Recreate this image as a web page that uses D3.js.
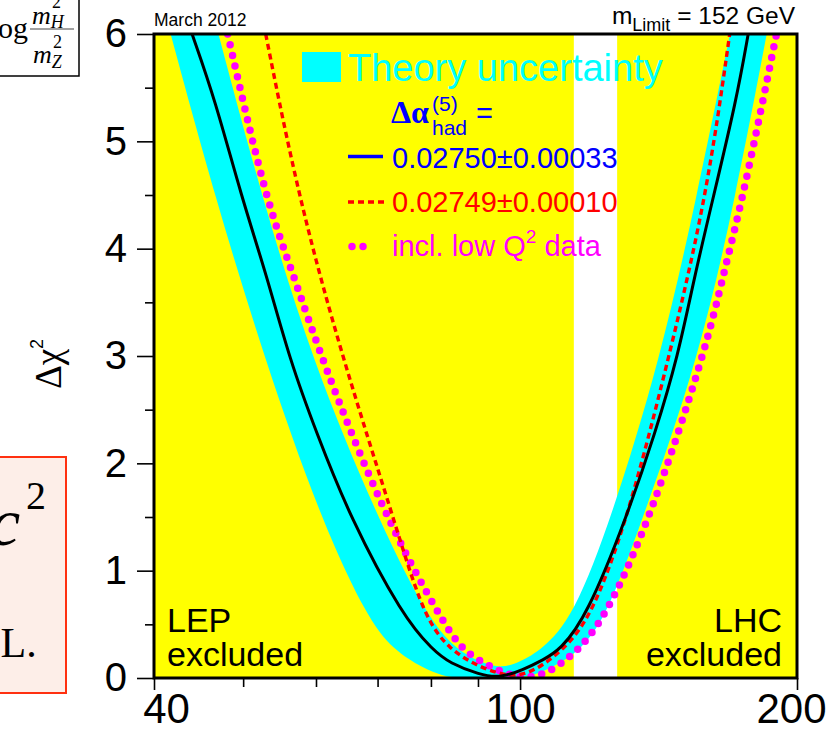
<!DOCTYPE html>
<html>
<head>
<meta charset="utf-8">
<script src="https://cdn.jsdelivr.net/npm/d3@7"></script>
<style>
  body { margin: 0; background: #fff; }
  svg text { font-family: "Liberation Sans", Arial, Helvetica, sans-serif; }
  .serif { font-family: "Liberation Serif", "Times New Roman", serif; }
</style>
</head>
<body>
<div id="chart"></div>
<script>
// Axis ticks
const xTicks = [40, 100, 200];
const xMinorTicks = [50, 60, 70, 80, 90];
const yTicks = [0, 1, 2, 3, 4, 5, 6];
const yMinorTicks = [0.5, 1.5, 2.5, 3.5, 4.5, 5.5];

// Excluded mass ranges (GeV)
const lepExcluded = [40, 114.4];
const lhcExcluded = [127.5, 200];

// Theory uncertainty band: outer (lower) and inner (upper) edges
const bandOuterMass = [41.7, 46.6, 52.8, 60.6, 68.1, 72.8, 78.5, 82.5, 85, 98.5, 103, 106.9, 111, 116.2, 124.2, 136.1, 156.2, 171.5, 185.4];
const bandOuterChi2 = [6.0, 4.48, 2.96, 1.50, 0.57, 0.26, 0.09, 0.02, 0, 0, 0.02, 0.075, 0.15, 0.26, 0.57, 1.50, 2.96, 4.48, 6.0];
const bandInnerMass = [47.0, 52.4, 59.4, 69.9, 79.2, 85.3, 91, 95.5, 100, 105.5, 114.3, 125.8, 141.9, 155.6, 169.1];
const bandInnerChi2 = [6.0, 4.48, 2.96, 1.50, 0.57, 0.26, 0.14, 0.09, 0.15, 0.26, 0.57, 1.50, 2.96, 4.48, 6.0];

// Fit with 0.02750 +- 0.00033 (solid)
const fitMass = [44.0, 46.6, 49.8, 53.0, 56.2, 60.1, 65.3, 74.6, 80.4, 83.9, 90.4, 95, 100.7, 106, 110.5, 118.1, 130.6, 140.2, 148.5, 154.9, 162.2, 171.9, 177];
const fitChi2 = [6.0, 5.39, 4.48, 3.76, 2.96, 2.28, 1.50, 0.57, 0.26, 0.137, 0.03, 0, 0.075, 0.17, 0.26, 0.57, 1.50, 2.28, 3.0, 3.76, 4.48, 5.39, 6.0];

// Fit with 0.02749 +- 0.00010 (dashed)
const altMass = [52.9, 57.4, 64.2, 72.8, 78.5, 83.9, 90.3, 98, 104, 111.4, 119.6, 131.1, 145.3, 159.5, 169];
const altChi2 = [6.0, 4.48, 2.96, 1.50, 0.57, 0.26, 0.10, 0, 0.07, 0.26, 0.57, 1.50, 3.0, 4.48, 6.0];

// Fit incl. low Q^2 data (dotted)
const lowQMass = [48.1, 52.8, 56.7, 60.9, 71.3, 81.8, 86.4, 92, 96.6, 100.5, 104, 107.8, 112.7, 115.6, 124, 138.7, 159.2, 166.3, 174.8, 190];
const lowQChi2 = [6.0, 4.48, 3.76, 2.96, 1.50, 0.57, 0.26, 0.12, 0.04, 0, 0.02, 0.06, 0.186, 0.26, 0.57, 1.50, 3.06, 3.76, 4.48, 6.0];

const toPoints = (ms, cs) => ms.map((m, i) => ({ m: m, c: cs[i] }));

let margin = { top: 34, left: 154, right: 30, bottom: 52 };
let width = 643, height = 644;

let root = d3.select("#chart")
  .append("svg")
  .attr("width", 827)
  .attr("height", 730);

// Bits of the surrounding page that are cut off at the left edge
root.append("rect")
  .attr("x", -3).attr("y", -3)
  .attr("width", 82).attr("height", 79)
  .attr("fill", "none").attr("stroke", "black").attr("stroke-width", 1.5);
root.append("text").attr("class", "serif")
  .attr("x", -2).attr("y", 38).style("font-size", "30px").text("og");
root.append("line")
  .attr("x1", 30).attr("x2", 74).attr("y1", 29).attr("y2", 29)
  .attr("stroke", "#444").attr("stroke-width", 1.2);
let num = root.append("text").attr("class", "serif")
  .attr("x", 32).attr("y", 24).style("font-size", "26px").style("font-style", "italic");
num.append("tspan").text("m");
num.append("tspan").attr("dy", 4).style("font-size", "18px").text("H");
num.append("tspan").attr("x", 52).attr("dy", -20).style("font-size", "18px").style("font-style", "normal").text("2");
let den = root.append("text").attr("class", "serif")
  .attr("x", 33).attr("y", 63).style("font-size", "26px").style("font-style", "italic");
den.append("tspan").text("m");
den.append("tspan").attr("dy", 5).style("font-size", "18px").text("Z");
den.append("tspan").attr("x", 53).attr("dy", -20).style("font-size", "18px").style("font-style", "normal").text("2");

root.append("rect")
  .attr("x", -3).attr("y", 457)
  .attr("width", 69).attr("height", 236)
  .attr("fill", "#fdeee8").attr("stroke", "#ff3010").attr("stroke-width", 2);
root.append("text").attr("class", "serif")
  .attr("x", -10).attr("y", 545).style("font-size", "68px").style("font-style", "italic").text("c");
root.append("text").attr("class", "serif")
  .attr("x", 26).attr("y", 509).style("font-size", "40px").text("2");
root.append("text").attr("class", "serif")
  .attr("x", -10).attr("y", 657).style("font-size", "42px").text(".L.");

let svg = root.append("g")
  .attr("transform", `translate(${margin.left},${margin.top})`);

// Scales
let x = d3.scaleLog().domain([40, 200]).range([0, width]);
let y = d3.scaleLinear().domain([0, 6]).range([height, 0]);

svg.append("defs").append("clipPath").attr("id", "frame-clip")
  .append("rect").attr("width", width).attr("height", height);

// Excluded regions
svg.selectAll(".excl")
  .data([lepExcluded, lhcExcluded])
  .enter()
  .append("rect")
  .attr("class", "excl")
  .attr("x", d => x(d[0]))
  .attr("y", 0)
  .attr("width", d => x(d[1]) - x(d[0]))
  .attr("height", height)
  .attr("fill", "#ffff00");

let plot = svg.append("g").attr("clip-path", "url(#frame-clip)");

let edge = d3.line()
  .x(d => x(d.m))
  .y(d => y(d.c))
  .curve(d3.curveBasis);

// Theory band
let outer = toPoints(bandOuterMass, bandOuterChi2);
let inner = toPoints(bandInnerMass, bandInnerChi2).reverse();
plot.append("path")
  .attr("d", edge(outer) + "L" + edge(inner).slice(1) + "Z")
  .attr("fill", "#00ffff");

// Curves
plot.append("path")
  .attr("d", edge(toPoints(lowQMass, lowQChi2)))
  .attr("fill", "none")
  .attr("stroke", "#ff00ff")
  .attr("stroke-width", 7.5)
  .attr("stroke-linecap", "round")
  .attr("stroke-dasharray", "0 11");

plot.append("path")
  .attr("d", edge(toPoints(altMass, altChi2)))
  .attr("fill", "none")
  .attr("stroke", "#ff0000")
  .attr("stroke-width", 3.4)
  .attr("stroke-dasharray", "6 4");

plot.append("path")
  .attr("d", edge(toPoints(fitMass, fitChi2)))
  .attr("fill", "none")
  .attr("stroke", "black")
  .attr("stroke-width", 3);

// Axes
let yAxis = svg.append("g")
  .call(d3.axisLeft(y).tickValues(yTicks).tickSize(17).tickPadding(10).tickFormat(d3.format("d")));
let yMinor = svg.append("g")
  .call(d3.axisLeft(y).tickValues(yMinorTicks).tickSize(9).tickFormat(""));
let xAxis = svg.append("g")
  .attr("transform", `translate(0, ${height})`)
  .call(d3.axisBottom(x).tickValues(xTicks).tickSize(12).tickPadding(3).tickFormat(d3.format("d")));
let xMinor = svg.append("g")
  .attr("transform", `translate(0, ${height})`)
  .call(d3.axisBottom(x).tickValues(xMinorTicks).tickSize(9).tickFormat(""));

[yAxis, yMinor, xAxis, xMinor].forEach(g => {
  g.select(".domain").remove();
  g.selectAll(".tick line").attr("stroke", "black").attr("stroke-width", 1.6);
});
yAxis.selectAll("text")
  .style("font-size", "40px")
  .style("font-family", "'Liberation Sans', Arial, sans-serif")
  .attr("fill", "black");
xAxis.selectAll("text")
  .style("font-size", "42px")
  .style("font-family", "'Liberation Sans', Arial, sans-serif")
  .attr("fill", "black")
  .attr("dx", d => d === 40 ? 12 : d === 200 ? -6 : 0);

// Frame
svg.append("rect")
  .attr("width", width)
  .attr("height", height)
  .attr("fill", "none")
  .attr("stroke", "black")
  .attr("stroke-width", 3);

// Y axis label
let ylab = svg.append("text")
  .attr("class", "serif")
  .attr("transform", `translate(${-93}, ${330}) rotate(-90)`)
  .style("text-anchor", "middle")
  .style("font-size", "37px");
ylab.append("tspan").text("Δχ");
ylab.append("tspan").attr("dy", -18).style("font-size", "18px").style("font-family", "'Liberation Sans', Arial, sans-serif").text("2");

// Header texts
svg.append("text")
  .attr("x", 0).attr("y", -8)
  .style("font-size", "17.5px")
  .text("March 2012");

let mlim = svg.append("text")
  .attr("x", width - 2).attr("y", -10)
  .style("text-anchor", "end")
  .style("font-size", "24.5px");
mlim.append("tspan").text("m");
mlim.append("tspan").attr("dy", 7).style("font-size", "18px").text("Limit");
mlim.append("tspan").attr("dy", -7).text(" = 152 GeV");

// Region labels
svg.append("text").attr("x", 13).attr("y", 598).style("font-size", "34px").text("LEP");
svg.append("text").attr("x", 13).attr("y", 632).style("font-size", "34px").text("excluded");
svg.append("text").attr("x", width - 15).attr("y", 598).style("text-anchor", "end").style("font-size", "34px").text("LHC");
svg.append("text").attr("x", width - 15).attr("y", 632).style("text-anchor", "end").style("font-size", "34px").text("excluded");

// Legend
let legend = svg.append("g");
legend.append("rect")
  .attr("x", 148).attr("y", 18)
  .attr("width", 39).attr("height", 30)
  .attr("fill", "#00ffff");
legend.append("text")
  .attr("x", 194).attr("y", 47)
  .attr("fill", "#00ffff")
  .style("font-size", "38px")
  .text("Theory uncertainty");

legend.append("text")
  .attr("class", "serif")
  .attr("x", 237).attr("y", 89)
  .attr("fill", "#0000ff")
  .style("font-size", "32px")
  .style("font-weight", "bold")
  .text("Δα");
legend.append("text")
  .attr("x", 278).attr("y", 77)
  .attr("fill", "#0000ff")
  .style("font-size", "21px")
  .text("(5)");
legend.append("text")
  .attr("x", 278).attr("y", 101)
  .attr("fill", "#0000ff")
  .style("font-size", "21px")
  .text("had");
legend.append("text")
  .attr("x", 322).attr("y", 89)
  .attr("fill", "#0000ff")
  .style("font-size", "29px")
  .text("=");

legend.append("line")
  .attr("x1", 194).attr("x2", 229).attr("y1", 122.5).attr("y2", 122.5)
  .attr("stroke", "#0000ff").attr("stroke-width", 3.5);
legend.append("text")
  .attr("x", 238).attr("y", 134)
  .attr("fill", "#0000ff")
  .style("font-size", "29px")
  .text("0.02750±0.00033");

legend.append("line")
  .attr("x1", 194).attr("x2", 230).attr("y1", 168).attr("y2", 168)
  .attr("stroke", "#ff0000").attr("stroke-width", 3.4)
  .attr("stroke-dasharray", "6 4");
legend.append("text")
  .attr("x", 238).attr("y", 178)
  .attr("fill", "#ff0000")
  .style("font-size", "29px")
  .text("0.02749±0.00010");

legend.append("line")
  .attr("x1", 198).attr("x2", 220).attr("y1", 212.5).attr("y2", 212.5)
  .attr("stroke", "#ff00ff").attr("stroke-width", 7.5)
  .attr("stroke-linecap", "round")
  .attr("stroke-dasharray", "0 11");
let lq = legend.append("text")
  .attr("x", 238).attr("y", 222)
  .attr("fill", "#ff00ff")
  .style("font-size", "29px");
lq.append("tspan").text("incl. low Q");
lq.append("tspan").attr("dy", -13).style("font-size", "19px").text("2");
lq.append("tspan").attr("dy", 13).text(" data");
</script>
</body>
</html>
